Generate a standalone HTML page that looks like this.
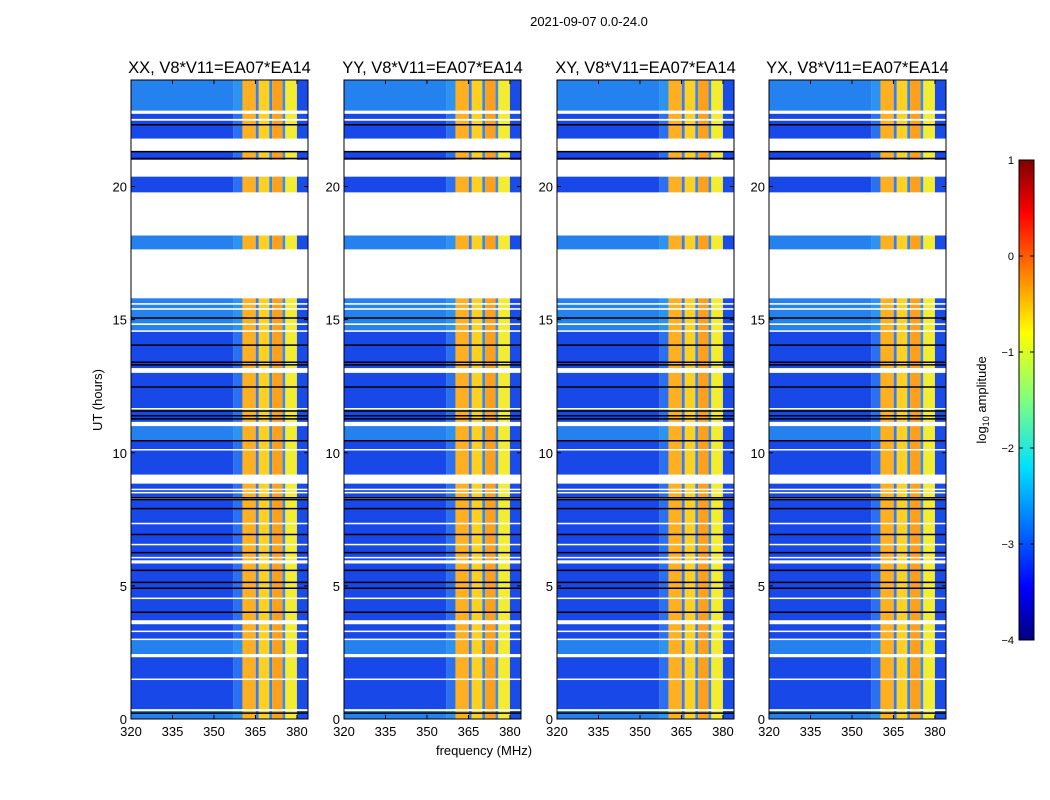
<!DOCTYPE html>
<html><head><meta charset="utf-8"><style>
body{margin:0;background:#fff;}
svg{display:block;font-family:"Liberation Sans",sans-serif;}
</style></head><body>
<svg id="fig" width="1050" height="800">
<defs>
<linearGradient id="jet" x1="0" y1="1" x2="0" y2="0">
<stop offset="0" stop-color="#00007f"/><stop offset="0.11" stop-color="#0000ff"/>
<stop offset="0.36" stop-color="#00e0ff"/><stop offset="0.5" stop-color="#7fff7f"/>
<stop offset="0.64" stop-color="#ffff00"/><stop offset="0.89" stop-color="#ff0000"/>
<stop offset="1" stop-color="#7f0000"/></linearGradient>
</defs>
<text x="589" y="26" font-size="13" text-anchor="middle">2021-09-07 0.0-24.0</text>
<text x="484" y="755" font-size="13" text-anchor="middle">frequency (MHz)</text>
<text transform="translate(102,400) rotate(-90)" font-size="13" text-anchor="middle">UT (hours)</text>
<g id="panels"></g>
<g>
<rect x="1019" y="160" width="15" height="480" fill="url(#jet)" stroke="#000" stroke-width="1"/>
<g id="cbticks"></g>
<text transform="translate(986,400) rotate(-90)" font-size="13" text-anchor="middle">log<tspan font-size="9" dy="3">10</tspan><tspan dy="-3"> amplitude</tspan></text>
</g>
</svg>
<script>
const panelTitles=["XX, V8*V11=EA07*EA14","YY, V8*V11=EA07*EA14","XY, V8*V11=EA07*EA14","YX, V8*V11=EA07*EA14"];
const panelLefts=[131,344,557,769];
const xTicks=[320,335,350,365,380];
const yTicks=[0,5,10,15,20];
const cbTicks=[1,0,-1,-2,-3,-4];
const bandStarts=[320,357,360.3,365.1,366.2,370.0,371.0,374.8,375.8,380.0];
const bandEnds  =[357,360.3,365.1,366.2,370.0,371.0,374.8,375.8,380.0,384];
const bandColors=["#1848e8","#2a70f0","#ffb020","#3a7cf0","#ffd020","#2f8af0","#ffa01c","#3c8cf0","#f4ec30","#1a4ce8"];
const lightLow=[22.85,20.37,17.64,14.6,10.45,2.44,0.0];
const lightHigh=[24,21.0,18.16,15.8,11.0,3.0,0.3];
const gapLow=[22.73,22.47,21.31,20.37,18.16,15.8,15.56,15.37,14.8,14.54,13.0,11.63,11.0,10.09,8.84,8.6,8.48,8.25,7.32,6.53,6.04,5.84,4.51,3.56,3.27,2.97,2.32,1.47,0.3];
const gapHigh=[22.85,22.54,21.8,21.0,19.78,17.64,15.62,15.43,14.86,14.6,13.18,11.68,11.16,10.14,9.18,8.65,8.53,8.3,7.37,6.58,6.09,5.96,4.56,3.71,3.32,3.02,2.44,1.52,0.37];
const blackLines=[22.32,21.31,21.05,15.06,14.04,13.3,13.4,12.47,11.57,11.39,11.27,10.45,8.31,8.24,7.9,6.93,6.25,5.58,5.13,4.91,4.01,0.22];
const NS="http://www.w3.org/2000/svg";
const yTop=80,yBot=719,PW=177;
function yS(h){return yBot-(h/24)*(yBot-yTop);}
function xS(f,L){return L+(f-320)/(384-320)*PW;}
function mk(tag,attrs,parent){const e=document.createElementNS(NS,tag);for(const k in attrs)e.setAttribute(k,attrs[k]);parent.appendChild(e);return e;}
const root=document.getElementById('panels');
panelLefts.forEach((L,p)=>{
  const g=mk('g',{},root);
  
  
  for(let i=0;i<bandStarts.length;i++){
    const r=mk('rect',{x:xS(bandStarts[i],L),y:yTop,width:xS(bandEnds[i],L)-xS(bandStarts[i],L),height:yBot-yTop,fill:bandColors[i]},g);
    
    
  }
  for(let i=0;i<lightLow.length;i++){
    const r=mk('rect',{x:L,y:yS(lightHigh[i]),width:xS(360.3,L)-L,height:yS(lightLow[i])-yS(lightHigh[i]),fill:"#30b0f0",opacity:0.55},g);
    
    
  }
  for(let i=0;i<gapLow.length;i++){
    const r=mk('rect',{x:L,y:yS(gapHigh[i]),width:PW,height:Math.max(1.5,yS(gapLow[i])-yS(gapHigh[i])),fill:"#fff"},g);
    
    
  }
  blackLines.forEach(h=>{
    const l=mk('line',{x1:L,x2:L+PW,y1:yS(h),y2:yS(h),stroke:"#000","stroke-width":1.5},g);
    
    
  });
  const fr=mk('rect',{x:L,y:yTop,width:PW,height:yBot-yTop,fill:"none",stroke:"#000","stroke-width":1},g);
  
  
  const t=mk('text',{x:L+PW/2,y:73,"font-size":16.5,"text-anchor":"middle"},g);
  t.textContent=panelTitles[p];
  
  
  xTicks.forEach(v=>{
    const x=xS(v,L);
    mk('line',{x1:x,x2:x,y1:yBot,y2:yBot-4,stroke:"#000"},g);
    mk('line',{x1:x,x2:x,y1:yTop,y2:yTop+4,stroke:"#000"},g);
    const tx=mk('text',{x:x,y:yBot+17,"font-size":13,"text-anchor":"middle"},g);
    tx.textContent=v;
    
    
  });
  yTicks.forEach(v=>{
    const y=yS(v);
    mk('line',{x1:L,x2:L+4,y1:y,y2:y,stroke:"#000"},g);
    mk('line',{x1:L+PW,x2:L+PW-4,y1:y,y2:y,stroke:"#000"},g);
    const tx=mk('text',{x:L-4,y:y+5,"font-size":13,"text-anchor":"end"},g);
    tx.textContent=v;
    
    
  });
});
const cbg=document.getElementById('cbticks');
cbTicks.forEach(v=>{
  const y=160+(1-v)/5*480;
  mk('line',{x1:1019,x2:1023,y1:y,y2:y,stroke:"#000"},cbg);
  mk('line',{x1:1034,x2:1030,y1:y,y2:y,stroke:"#000"},cbg);
  const tx=mk('text',{x:1014,y:y+4,"font-size":11,"text-anchor":"end"},cbg);
  tx.textContent=v<0?"\u2212"+(-v):v;
  
  
});
</script>
</body></html>
